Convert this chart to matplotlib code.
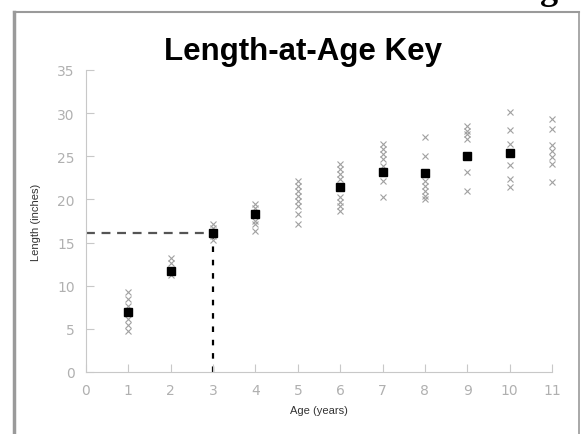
import matplotlib
matplotlib.use("Agg")
import matplotlib.pyplot as plt
from matplotlib.lines import Line2D

# Individual fish lengths (inches) by age (years)
ages = [1, 2, 3, 4, 5, 6, 7, 8, 9, 10, 11]
lengths = [
    [4.8, 5.4, 6.1, 7.7, 8.5, 9.3],
    [11.2, 12.6, 13.2],
    [15.3, 15.8, 16.7, 17.2],
    [16.3, 17.1, 17.5, 19.0, 19.5],
    [17.1, 18.3, 19.2, 19.8, 20.4, 21.0, 21.6, 22.1],
    [18.7, 19.2, 19.7, 20.3, 22.4, 22.9, 23.5, 24.1],
    [20.3, 22.1, 23.9, 24.7, 25.3, 25.8, 26.4],
    [20.0, 20.4, 21.0, 21.6, 22.1, 25.0, 27.2],
    [21.0, 23.2, 27.0, 27.6, 27.9, 28.5],
    [21.4, 22.4, 24.0, 26.4, 28.0, 30.1],
    [22.0, 24.1, 24.9, 25.6, 26.3, 28.2, 29.3],
]

# Mean length at age (no mean marked for ages 5 and 11)
mean_ages = [1, 2, 3, 4, 6, 7, 8, 9, 10]
mean_lengths = [7.0, 11.7, 16.1, 18.3, 21.4, 23.2, 23.1, 25.0, 25.4]

# Example lookup: a 16 inch fish is about 3 years old
lookup_age = 3
lookup_length = 16.1

xticks = list(range(0, 12))
yticks = [0, 5, 10, 15, 20, 25, 30, 35]

fig = plt.figure(figsize=(5.82, 4.35), dpi=100)
ax = fig.add_axes([86 / 582, 62 / 435, 466 / 582, 302 / 435])

tick_grey = "#b0b0b0"

for a, ls in zip(ages, lengths):
    ax.plot([a] * len(ls), ls, linestyle="none", marker="x", markersize=5,
            markeredgewidth=0.8, color="#a0a0a0", clip_on=False, zorder=2)

ax.plot(mean_ages, mean_lengths, linestyle="none", marker="s", markersize=5.5,
        color="black", zorder=3)

# dashed guide lines
ax.plot([0, lookup_age], [lookup_length, lookup_length], linestyle=(0, (4, 3)),
        color="#555555", linewidth=1.6, zorder=1)
ax.plot([lookup_age, lookup_age], [0, lookup_length], linestyle=(0, (2.5, 3.5)),
        color="black", linewidth=1.6, zorder=1)

ax.set_xlim(0, 11)
ax.set_ylim(0, 35)
ax.set_xticks(xticks)
ax.set_yticks(yticks)
ax.tick_params(direction="in", length=6, width=0.8, color="#c8c8c8",
               labelcolor=tick_grey, labelsize=10, pad=8)
for lab in ax.get_xticklabels() + ax.get_yticklabels():
    lab.set_family("Liberation Sans Narrow")

for side in ["top", "right"]:
    ax.spines[side].set_visible(False)
for side in ["left", "bottom"]:
    ax.spines[side].set_color("#c8c8c8")
    ax.spines[side].set_linewidth(0.8)

ax.set_xlabel("Age (years)", fontsize=8, color="#333333", labelpad=6,
              family="Liberation Sans")
ax.set_ylabel("Length (inches)", fontsize=8, color="#333333", labelpad=12,
              family="Liberation Sans")

fig.text(303 / 582, 1 - 52 / 435, "Length-at-Age Key", ha="center", va="center",
         fontsize=22.5, fontweight="bold", family="Liberation Sans")

# bottom of a heading cut off at the top edge of the scan
fig.text(549 / 582, 1 + 1 / 435, "g", ha="center", va="baseline",
         fontsize=26, fontweight="bold", family="Liberation Serif")

# outer frame of the figure panel
frame = "#9a9a9a"
fig.add_artist(Line2D([14 / 582, 579 / 582], [1 - 13 / 435, 1 - 13 / 435],
                      color=frame, linewidth=1.5, transform=fig.transFigure))
fig.add_artist(Line2D([14 / 582, 14 / 582], [0, 1 - 13 / 435],
                      color=frame, linewidth=2.5, transform=fig.transFigure))
fig.add_artist(Line2D([579 / 582, 579 / 582], [0, 1 - 13 / 435],
                      color=frame, linewidth=1.2, transform=fig.transFigure))

plt.savefig("out.png", dpi=100)
